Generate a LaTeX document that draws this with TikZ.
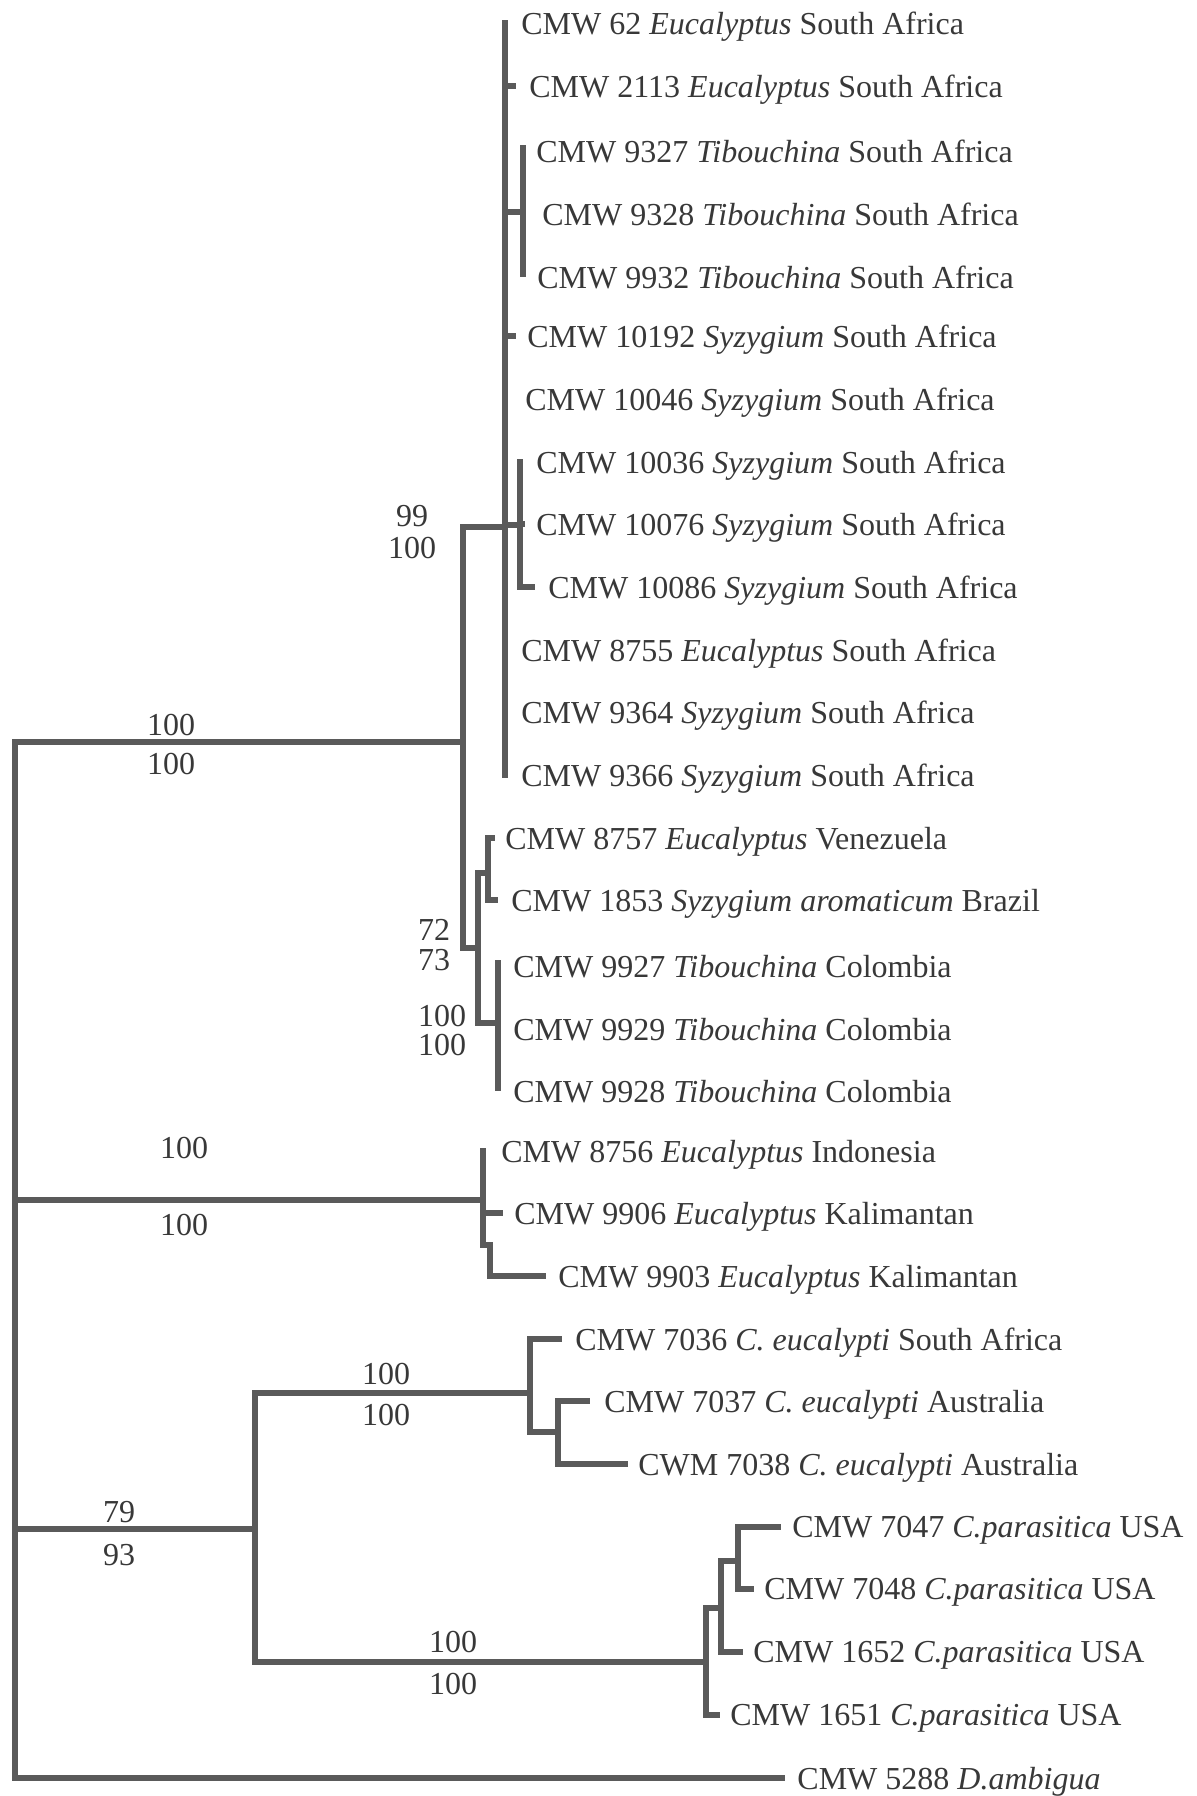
\documentclass[tikz,border=0pt]{standalone}
\usepackage{fontspec}
\setmainfont{Liberation Serif}
\usepackage{xcolor}
\usepackage{tikz}
\usetikzlibrary{positioning}

\definecolor{branchgray}{HTML}{5A5A5A}
\definecolor{labelgray}{HTML}{383838}

\begin{document}
\begin{tikzpicture}[x=0.5pt, y=-0.5pt,
        branch/.style={draw=branchgray, line width=2.7pt, line cap=rect},
        taxon/.style={anchor=west, inner sep=0pt, yshift=-1.7pt, text=labelgray, font=\fontsize{16}{18}\selectfont},
        boot/.style={inner sep=0pt, text=labelgray, font=\fontsize{16}{18}\selectfont}]
        \useasboundingbox (0, 0) rectangle (1196, 1796);

        % internal nodes
        \coordinate (root) at (15, 742);
        \coordinate (cSA)  at (463, 742);
        \coordinate (cAfr) at (505, 527);
        \coordinate (cTib) at (523, 212);
        \coordinate (cSyz) at (520, 525);
        \coordinate (cAm)  at (478, 948);
        \coordinate (cVen) at (488, 873);
        \coordinate (cCol) at (498, 1023);
        \coordinate (cInd) at (483, 1200);
        \coordinate (cKal) at (490, 1245);
        \coordinate (cOut) at (255, 1529);
        \coordinate (cEuc) at (530, 1393);
        \coordinate (cAus) at (558, 1432);
        \coordinate (cPar) at (706, 1662);
        \coordinate (cPa2) at (721, 1608);
        \coordinate (cPa3) at (738, 1561);

        % branch ends
        \coordinate (e62)    at (505, 23);
        \coordinate (e2113)  at (513, 86);
        \coordinate (e9327)  at (523, 148);
        \coordinate (e9328)  at (523, 211);
        \coordinate (e9932)  at (523, 274);
        \coordinate (e10192) at (513, 336);
        \coordinate (e10046) at (505, 399);
        \coordinate (e10036) at (520, 462);
        \coordinate (e10076) at (522, 524);
        \coordinate (e10086) at (532, 587);
        \coordinate (e8755)  at (505, 650);
        \coordinate (e9364)  at (505, 712);
        \coordinate (e9366)  at (505, 775);
        \coordinate (e8757)  at (492, 838);
        \coordinate (e1853)  at (495, 900);
        \coordinate (e9927)  at (498, 963);
        \coordinate (e9929)  at (498, 1026);
        \coordinate (e9928)  at (498, 1088);
        \coordinate (e8756)  at (483, 1151);
        \coordinate (e9906)  at (500, 1213);
        \coordinate (e9903)  at (543, 1276);
        \coordinate (e7036)  at (559, 1339);
        \coordinate (e7037)  at (587, 1401);
        \coordinate (e7038)  at (625, 1464);
        \coordinate (e7047)  at (778, 1527);
        \coordinate (e7048)  at (751, 1589);
        \coordinate (e1652)  at (740, 1652);
        \coordinate (e1651)  at (717, 1715);
        \coordinate (e5288)  at (782, 1778);

        % taxa
        \node[taxon] (t62)    at (521, 23)   {CMW 62 \textit{Eucalyptus} South Africa};
        \node[taxon] (t2113)  at (529, 86)   {CMW 2113 \textit{Eucalyptus} South Africa};
        \node[taxon] (t9327)  at (536, 148)  {CMW 9327 \textit{Tibouchina} South Africa};
        \node[taxon] (t9328)  at (542, 211)  {CMW 9328 \textit{Tibouchina} South Africa};
        \node[taxon] (t9932)  at (537, 274)  {CMW 9932 \textit{Tibouchina} South Africa};
        \node[taxon] (t10192) at (527, 336)  {CMW 10192 \textit{Syzygium} South Africa};
        \node[taxon] (t10046) at (525, 399)  {CMW 10046 \textit{Syzygium} South Africa};
        \node[taxon] (t10036) at (536, 462)  {CMW 10036 \textit{Syzygium} South Africa};
        \node[taxon] (t10076) at (536, 524)  {CMW 10076 \textit{Syzygium} South Africa};
        \node[taxon] (t10086) at (548, 587)  {CMW 10086 \textit{Syzygium} South Africa};
        \node[taxon] (t8755)  at (521, 650)  {CMW 8755 \textit{Eucalyptus} South Africa};
        \node[taxon] (t9364)  at (521, 712)  {CMW 9364 \textit{Syzygium} South Africa};
        \node[taxon] (t9366)  at (521, 775)  {CMW 9366 \textit{Syzygium} South Africa};
        \node[taxon] (t8757)  at (505, 838)  {CMW 8757 \textit{Eucalyptus} Venezuela};
        \node[taxon] (t1853)  at (511, 900)  {CMW 1853 \textit{Syzygium aromaticum} Brazil};
        \node[taxon] (t9927)  at (513, 963)  {CMW 9927 \textit{Tibouchina} Colombia};
        \node[taxon] (t9929)  at (513, 1026) {CMW 9929 \textit{Tibouchina} Colombia};
        \node[taxon] (t9928)  at (513, 1088) {CMW 9928 \textit{Tibouchina} Colombia};
        \node[taxon] (t8756)  at (501, 1151) {CMW 8756 \textit{Eucalyptus} Indonesia};
        \node[taxon] (t9906)  at (514, 1213) {CMW 9906 \textit{Eucalyptus} Kalimantan};
        \node[taxon] (t9903)  at (558, 1276) {CMW 9903 \textit{Eucalyptus} Kalimantan};
        \node[taxon] (t7036)  at (575, 1339) {CMW 7036 \textit{C. eucalypti} South Africa};
        \node[taxon] (t7037)  at (604, 1401) {CMW 7037 \textit{C. eucalypti} Australia};
        \node[taxon] (t7038)  at (638, 1464) {CWM 7038 \textit{C. eucalypti} Australia};
        \node[taxon] (t7047)  at (792, 1527) {CMW 7047 \textit{C.parasitica} USA};
        \node[taxon] (t7048)  at (764, 1589) {CMW 7048 \textit{C.parasitica} USA};
        \node[taxon] (t1652)  at (753, 1652) {CMW 1652 \textit{C.parasitica} USA};
        \node[taxon] (t1651)  at (730, 1715) {CMW 1651 \textit{C.parasitica} USA};
        \node[taxon] (t5288)  at (797, 1778) {CMW 5288 \textit{D.ambigua}};

        % support values
        \node[boot] (b1a) at (171, 725)  {100};
        \node[boot] (b1b) at (171, 764)  {100};
        \node[boot] (b2a) at (412, 516)  {99};
        \node[boot] (b2b) at (412, 548)  {100};
        \node[boot] (b3a) at (434, 930)  {72};
        \node[boot] (b3b) at (434, 960)  {73};
        \node[boot] (b4a) at (442, 1016) {100};
        \node[boot] (b4b) at (442, 1045) {100};
        \node[boot] (b5a) at (184, 1148) {100};
        \node[boot] (b5b) at (184, 1225) {100};
        \node[boot] (b6a) at (386, 1374) {100};
        \node[boot] (b6b) at (386, 1415) {100};
        \node[boot] (b7a) at (119, 1512) {79};
        \node[boot] (b7b) at (119, 1555) {93};
        \node[boot] (b8a) at (453, 1642) {100};
        \node[boot] (b8b) at (453, 1684) {100};

        % branches
        \draw[branch] (root) |- (cSA);
        \draw[branch] (root) |- (cInd);
        \draw[branch] (root) |- (cOut);
        \draw[branch] (root) |- (e5288);

        \draw[branch] (cSA) |- (cAfr);
        \draw[branch] (cSA) |- (cAm);

        \draw[branch] (cAfr) |- (e62);
        \draw[branch] (cAfr) |- (e2113);
        \draw[branch] (cAfr) |- (cTib);
        \draw[branch] (cAfr) |- (e10192);
        \draw[branch] (cAfr) |- (e10046);
        \draw[branch] (cAfr) |- (cSyz);
        \draw[branch] (cAfr) |- (e8755);
        \draw[branch] (cAfr) |- (e9364);
        \draw[branch] (cAfr) |- (e9366);

        \draw[branch] (cTib) |- (e9327);
        \draw[branch] (cTib) |- (e9328);
        \draw[branch] (cTib) |- (e9932);

        \draw[branch] (cSyz) |- (e10036);
        \draw[branch] (cSyz) |- (e10076);
        \draw[branch] (cSyz) |- (e10086);

        \draw[branch] (cAm) |- (cVen);
        \draw[branch] (cAm) |- (cCol);
        \draw[branch] (cVen) |- (e8757);
        \draw[branch] (cVen) |- (e1853);
        \draw[branch] (cCol) |- (e9927);
        \draw[branch] (cCol) |- (e9929);
        \draw[branch] (cCol) |- (e9928);

        \draw[branch] (cInd) |- (e8756);
        \draw[branch] (cInd) |- (e9906);
        \draw[branch] (cInd) |- (cKal);
        \draw[branch] (cKal) |- (e9903);

        \draw[branch] (cOut) |- (cEuc);
        \draw[branch] (cOut) |- (cPar);
        \draw[branch] (cEuc) |- (e7036);
        \draw[branch] (cEuc) |- (cAus);
        \draw[branch] (cAus) |- (e7037);
        \draw[branch] (cAus) |- (e7038);

        \draw[branch] (cPar) |- (cPa2);
        \draw[branch] (cPar) |- (e1651);
        \draw[branch] (cPa2) |- (cPa3);
        \draw[branch] (cPa2) |- (e1652);
        \draw[branch] (cPa3) |- (e7047);
        \draw[branch] (cPa3) |- (e7048);
\end{tikzpicture}
\end{document}
